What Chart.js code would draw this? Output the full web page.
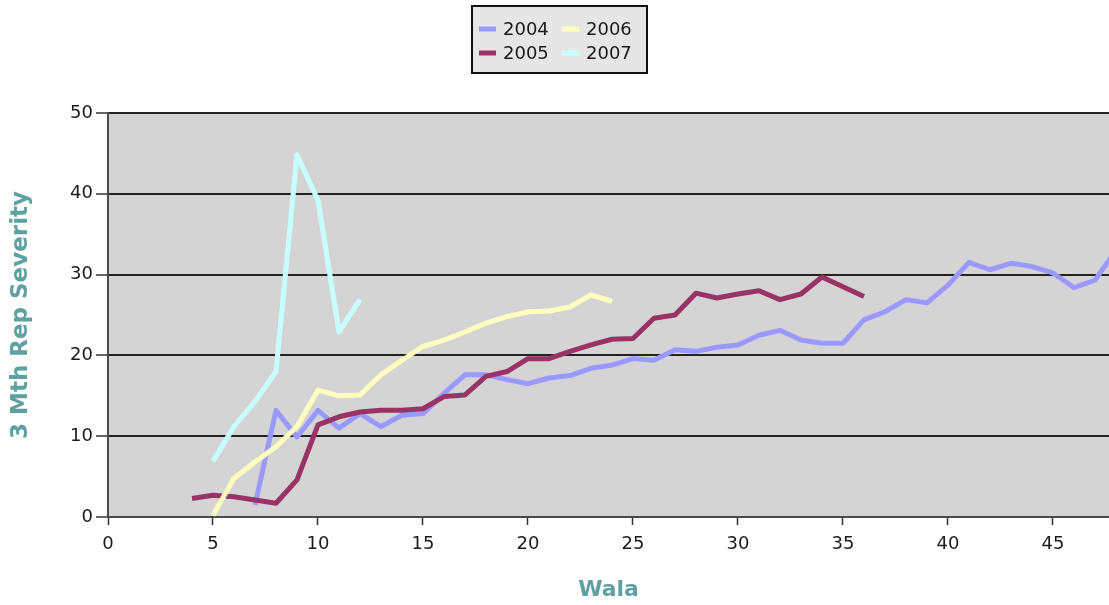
<!DOCTYPE html>
<html>
<head>
<meta charset="utf-8">
<title>3 Mth Rep Severity by Wala</title>
<script src="https://cdn.jsdelivr.net/npm/chart.js@4/dist/chart.umd.min.js"></script>
<style>
  html, body { margin: 0; padding: 0; background: #ffffff; }
  canvas { display: block; }
</style>
</head>
<body>
<canvas id="chart" width="1109" height="605"></canvas>
<script>
// Wala (week) positions and severity readings for each season
const wala2004 = [7, 8, 9, 10, 11, 12, 13, 14, 15, 16, 17, 18, 19, 20, 21, 22, 23, 24, 25, 26, 27,
                  28, 29, 30, 31, 32, 33, 34, 35, 36, 37, 38, 39, 40, 41, 42, 43, 44, 45, 46, 47, 48];
const sev2004  = [1.5, 13.2, 9.9, 13.2, 11.0, 12.8, 11.2, 12.6, 12.8, 15.3, 17.6, 17.6, 17.0, 16.5, 17.2, 17.5, 18.4, 18.8, 19.6, 19.4, 20.7,
                  20.5, 21.0, 21.3, 22.5, 23.1, 21.9, 21.5, 21.5, 24.4, 25.4, 26.9, 26.5, 28.7, 31.5, 30.6, 31.4, 31.0, 30.2, 28.4, 29.3, 33.0];

const wala2005 = [4, 5, 6, 7, 8, 9, 10, 11, 12, 13, 14, 15, 16, 17, 18, 19, 20, 21, 22, 23,
                  24, 25, 26, 27, 28, 29, 30, 31, 32, 33, 34, 35, 36];
const sev2005  = [2.3, 2.7, 2.5, 2.1, 1.7, 4.6, 11.4, 12.4, 13.0, 13.2, 13.2, 13.4, 14.9, 15.1, 17.4, 18.0, 19.6, 19.6, 20.5, 21.3,
                  22.0, 22.1, 24.6, 25.0, 27.7, 27.1, 27.6, 28.0, 26.9, 27.6, 29.7, 28.5, 27.3];

const wala2006 = [5, 6, 7, 8, 9, 10, 11, 12, 13, 14, 15, 16, 17, 18, 19, 20, 21, 22, 23, 24];
const sev2006  = [0.2, 4.8, 6.8, 8.7, 11.2, 15.7, 15.0, 15.1, 17.6, 19.4, 21.1, 21.9, 22.9, 24.0, 24.8, 25.4, 25.5, 26.0, 27.5, 26.7];

const wala2007 = [5, 6, 7, 8, 9, 10, 11, 12];
const sev2007  = [6.9, 11.2, 14.3, 18.0, 44.8, 39.2, 22.9, 26.9];

const seriesNames  = ['2004', '2005', '2006', '2007'];
const seriesColors = ['#9999ff', '#993366', '#ffffc0', '#c8ffff'];

const yTicks = [0, 10, 20, 30, 40, 50];
const xTickStep = 5;

const toPoints = (xs, ys) => xs.map((x, i) => ({ x: x, y: ys[i] }));

const seriesData = [
  toPoints(wala2004, sev2004),
  toPoints(wala2005, sev2005),
  toPoints(wala2006, sev2006),
  toPoints(wala2007, sev2007)
];

const titleColor = '#5fa0a0';
const fontFamily = '"DejaVu Sans", Verdana, sans-serif';

// Gray plotting area behind the lines
const plotBackground = {
  id: 'plotBackground',
  beforeDraw(chart) {
    const { ctx, chartArea: a } = chart;
    ctx.save();
    ctx.fillStyle = '#d4d4d4';
    ctx.fillRect(a.left, a.top, a.right - a.left, a.bottom - a.top);
    ctx.restore();
  }
};

// Boxed two-column legend above the plot
const boxedLegend = {
  id: 'boxedLegend',
  afterDraw(chart) {
    const { ctx } = chart;
    const box = { x: 472, y: 6, w: 175, h: 67 };
    ctx.save();
    ctx.fillStyle = '#e6e6e6';
    ctx.fillRect(box.x, box.y, box.w, box.h);
    ctx.strokeStyle = '#111111';
    ctx.lineWidth = 2;
    ctx.strokeRect(box.x, box.y, box.w, box.h);

    // reading order: 2004, 2006 / 2005, 2007
    const slots = [
      { idx: 0, col: 0, row: 0 },
      { idx: 2, col: 1, row: 0 },
      { idx: 1, col: 0, row: 1 },
      { idx: 3, col: 1, row: 1 }
    ];
    const colX = [479, 562];
    const rowY = [29, 53];
    ctx.font = '18px ' + fontFamily;
    ctx.textBaseline = 'middle';
    ctx.textAlign = 'left';
    slots.forEach(s => {
      const ds = chart.data.datasets[s.idx];
      const x = colX[s.col], y = rowY[s.row];
      ctx.strokeStyle = ds.borderColor;
      ctx.lineWidth = 5;
      ctx.lineCap = 'butt';
      ctx.beginPath();
      ctx.moveTo(x, y);
      ctx.lineTo(x + 17, y);
      ctx.stroke();
      ctx.fillStyle = '#1a1a1a';
      ctx.fillText(ds.label, x + 24, y + 1);
    });
    ctx.restore();
  }
};

const chart = new Chart(document.getElementById('chart'), {
  type: 'line',
  data: {
    datasets: seriesNames.map((name, i) => ({
      label: name,
      data: seriesData[i],
      borderColor: seriesColors[i],
      backgroundColor: seriesColors[i],
      borderWidth: 5,
      borderJoinStyle: 'round',
      pointRadius: 0,
      pointHoverRadius: 0,
      tension: 0,
      fill: false,
      order: seriesNames.length - i
    }))
  },
  options: {
    responsive: false,
    animation: false,
    events: [],
    layout: { padding: { top: 113, right: 0, bottom: 0, left: 0 } },
    plugins: {
      legend: { display: false },
      tooltip: { enabled: false },
      title: { display: false }
    },
    scales: {
      x: {
        type: 'linear',
        min: 0,
        max: 47.67,
        afterFit(scale) { scale.height = 88; },
        ticks: {
          stepSize: xTickStep,
          includeBounds: false,
          color: '#1a1a1a',
          padding: 9,
          maxRotation: 0,
          font: { family: fontFamily, size: 18 }
        },
        grid: {
          drawOnChartArea: false,
          drawTicks: true,
          tickLength: 8,
          tickColor: '#333333',
          tickWidth: 1.5
        },
        border: { display: true, color: '#4a4a4a', width: 2 },
        title: {
          display: true,
          text: 'Wala',
          color: titleColor,
          font: { family: fontFamily, size: 22, weight: 'bold' },
          padding: { top: 0, bottom: 2 }
        }
      },
      y: {
        type: 'linear',
        min: yTicks[0],
        max: yTicks[yTicks.length - 1],
        afterFit(scale) { scale.width = 108; },
        afterBuildTicks(scale) { scale.ticks = yTicks.map(v => ({ value: v })); },
        ticks: {
          color: '#1a1a1a',
          padding: 3,
          font: { family: fontFamily, size: 18 }
        },
        grid: {
          color: '#222222',
          lineWidth: 2,
          drawTicks: true,
          tickLength: 12,
          tickColor: '#333333',
          tickWidth: 1.5
        },
        border: { display: true, color: '#4a4a4a', width: 2 },
        title: {
          display: true,
          text: '3 Mth Rep Severity',
          color: titleColor,
          font: { family: fontFamily, size: 23, weight: 'bold' },
          padding: { top: 7, bottom: 0 }
        }
      }
    }
  },
  plugins: [plotBackground, boxedLegend]
});
</script>
</body>
</html>
